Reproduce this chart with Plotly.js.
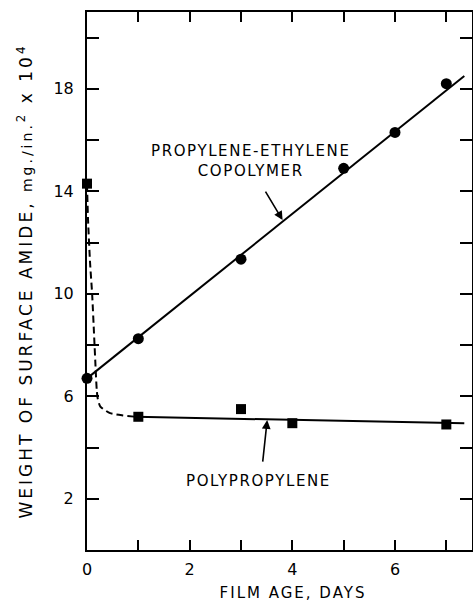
<!DOCTYPE html>
<html><head><meta charset="utf-8">
<script src="https://cdn.plot.ly/plotly-3.0.1.min.js"></script>
<style>
html,body{margin:0;padding:0;background:#fff}
.annotation-text{letter-spacing:1.6px}
.xtitle{letter-spacing:2px}
.ytitle{letter-spacing:3px}
</style>
</head><body><div id="chart" style="width:473px;height:602px"></div>
<script>
// Measured points
const copolyDays = [0, 1, 3, 5, 6, 7];
const copolyAmide = [6.7, 8.25, 11.35, 14.9, 16.3, 18.2];
const ppDays = [0, 1, 3, 4, 7];
const ppAmide = [14.3, 5.2, 5.5, 4.95, 4.9];
// Drawn fit lines
const copolyFitDays = [0, 7.35];
const copolyFitAmide = [6.7, 18.5];
const ppFitDays = [0.95, 7.35];
const ppFitAmide = [5.2, 4.95];
// Hand-drawn dashed curve for polypropylene at early ages
const ppCurveDays = [0, 0.02, 0.06, 0.1, 0.14, 0.17, 0.19, 0.21, 0.26, 0.45, 0.7, 0.95];
const ppCurveAmide = [14.3, 12.9, 11.2, 10.0, 8.3, 7.0, 6.24, 5.9, 5.6, 5.34, 5.25, 5.2];
const xTickVals = [0, 1, 2, 3, 4, 5, 6, 7];
const xTickText = ['0', '', '2', '', '4', '', '6', ''];
const yTickVals = [2, 4, 6, 8, 10, 12, 14, 16, 18, 20];
const yTickText = ['2', '', '6', '', '10', '', '14', '', '18', ''];

const F = 'DejaVu Sans';
const traces = [
  {x: copolyFitDays, y: copolyFitAmide, mode: 'lines', line: {color: '#000', width: 2}, hoverinfo: 'skip'},
  {x: ppCurveDays, y: ppCurveAmide, mode: 'lines', line: {color: '#000', width: 2, dash: '7px,4px', shape: 'spline', smoothing: 0.6}, hoverinfo: 'skip'},
  {x: ppFitDays, y: ppFitAmide, mode: 'lines', line: {color: '#000', width: 2}, hoverinfo: 'skip'},
  {x: copolyDays, y: copolyAmide, mode: 'markers', marker: {symbol: 'circle', size: 11, color: '#000'}, cliponaxis: false},
  {x: ppDays, y: ppAmide, mode: 'markers', marker: {symbol: 'square', size: 10, color: '#000'}, cliponaxis: false}
];

const axisCommon = {
  showgrid: false, zeroline: false, showline: true, linecolor: '#000', linewidth: 2,
  mirror: 'allticks', ticks: 'inside', tickcolor: '#000', tickwidth: 2,
  tickfont: {family: F, size: 16, color: '#000'}
};

const layout = {
  width: 473, height: 602,
  margin: {l: 87, r: 1, t: 12, b: 52},
  paper_bgcolor: '#fff', plot_bgcolor: '#fff',
  showlegend: false,
  font: {family: F, color: '#000'},
  xaxis: Object.assign({}, axisCommon, {
    range: [0, 7.5], tickmode: 'array', tickvals: xTickVals, ticktext: xTickText,
    ticklen: 10, ticklabelstandoff: 4,
    title: {text: '&nbsp;&nbsp;&nbsp;&nbsp;FILM AGE, DAYS', font: {family: F, size: 15, color: '#000'}, standoff: 12}
  }),
  yaxis: Object.assign({}, axisCommon, {
    range: [0, 21], tickmode: 'array', tickvals: yTickVals, ticktext: yTickText,
    ticklen: 12, ticklabelstandoff: 8,
    title: {text: 'WEIGHT OF SURFACE AMIDE, <span style="font-size:14px">mg./in.</span><sup>2</sup> x 10<sup>4</sup>', font: {family: F, size: 17, color: '#000'}, standoff: 16}
  }),
  annotations: [
    {x: 3.2, y: 15.2, xref: 'x', yref: 'y', text: 'PROPYLENE-ETHYLENE<br>COPOLYMER', showarrow: false,
     font: {family: F, size: 15, color: '#000'}, align: 'center'},
    {x: 3.81, y: 12.88, ax: 3.46, ay: 14.05, xref: 'x', yref: 'y', axref: 'x', ayref: 'y', text: '',
     showarrow: true, arrowhead: 2, arrowsize: 1.1, arrowwidth: 1.6, arrowcolor: '#000'},
    {x: 3.35, y: 2.7, xref: 'x', yref: 'y', text: 'POLYPROPYLENE', showarrow: false,
     font: {family: F, size: 15, color: '#000'}},
    {x: 3.51, y: 5.07, ax: 3.42, ay: 3.39, xref: 'x', yref: 'y', axref: 'x', ayref: 'y', text: '',
     showarrow: true, arrowhead: 2, arrowsize: 1.1, arrowwidth: 1.6, arrowcolor: '#000'}
  ]
};
Plotly.newPlot('chart', traces, layout, {staticPlot: true, displayModeBar: false});
</script></body></html>
